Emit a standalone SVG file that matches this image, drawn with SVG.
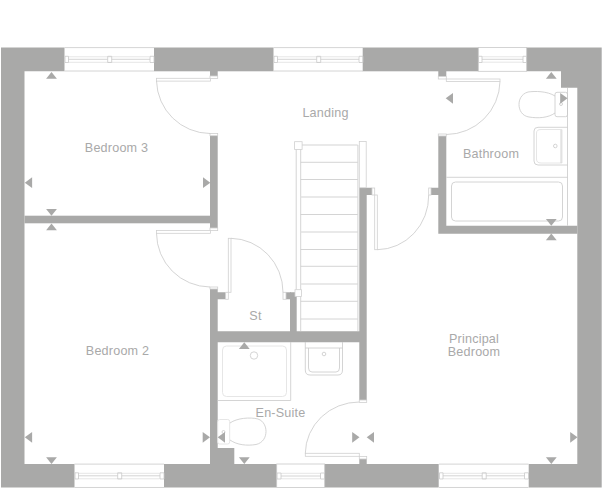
<svg xmlns="http://www.w3.org/2000/svg" width="602" height="489" viewBox="0 0 602 489">
<style>
.w{fill:#a9a9a8}
.l{fill:none;stroke:#c9c9c9;stroke-width:.8}
.p{fill:none;stroke:#e6e6e6;stroke-width:1}
.d{fill:#fff;stroke:#d0d0d0;stroke-width:.8}
.t{font-family:"Liberation Sans",Arial,sans-serif;font-size:12.6px;letter-spacing:.2px;fill:#a9a9a9;text-anchor:middle}
</style>
<defs>
<path id="au" class="w" d="M0 0L5.400 6.800H-5.400Z"/>
<path id="ad" class="w" d="M0 0L5.400 -6.800H-5.400Z"/>
<path id="al" class="w" d="M0 0L7.300 -5.400V5.400Z"/>
<path id="ar" class="w" d="M0 0L-7.300 -5.400V5.400Z"/>
<g id="win"><path class="l" d="M0 .3H89.500M0 23.700H89.500"/><path class="p" d="M4 9.500H85M4 15H85"/><path class="l" d="M.5 9H4V15.200H.5ZM43.200 9H47.200V15.200H43.200ZM85.500 9H89.500V15.200H85.500ZM4 12H43.200M47.200 12H85.500"/></g>
</defs>
<g id="walls">
<path class="w" d="M1 47.500H64.500V71.300H24.500V464H74.500V487.500H1Z"/>
<rect class="w" x="154" y="47.500" width="119.500" height="23.800"/>
<rect class="w" x="362.700" y="47.500" width="115.600" height="23.800"/>
<path class="w" d="M526.700 47.500H601.700V487.500H528.700V464H577.300V87.700H561V71.300H526.700Z"/>
<rect class="w" x="164" y="464" width="112.700" height="23.500"/>
<rect class="w" x="324.700" y="464" width="114" height="23.500"/>
<rect class="w" x="210" y="71" width="7.700" height="5"/>
<rect class="w" x="210" y="135.700" width="7.700" height="92.300"/>
<rect class="w" x="24.500" y="215.700" width="186" height="7.600"/>
<path class="w" d="M210 289H217.700V292.300H225.700V299.300H217.700V331.300H290V292.300H296.700V331.300H359.300V187.700H372V195H366.700V400H359.300V342.300H217.700V448H234.300V464H210Z"/>
<rect class="w" x="286" y="292.300" width="5" height="7"/>
<rect class="w" x="359.300" y="459" width="7.400" height="5"/>
<rect class="w" x="438.300" y="71" width="8" height="5.500"/>
<path class="w" d="M438.300 136H446.300V225.700H577.300V233.700H438.300V195H431V187.700H438.300Z"/>
</g>
<g id="windows">
<use href="#win" x="64.500" y="47.300"/>
<use href="#win" x="273.500" y="47.300"/>
<rect class="l" x="478.300" y="47.500" width="48.400" height="23.800"/>
<path class="p" d="M482 56.800H523M482 62.200H523"/>
<path class="l" d="M478.500 56.300H482V62.500H478.500ZM523 56.300H526.500V62.500H523ZM482 59.300H523"/>
<use href="#win" x="74.500" y="463.800"/>
<rect class="l" x="276.700" y="464" width="48" height="23.500"/>
<path class="p" d="M281 473.300H320M281 478.800H320"/>
<path class="l" d="M277 473H281V479H277ZM320.500 473H324.500V479H320.500ZM281 476H320.500"/>
<use href="#win" x="439" y="463.800"/>
</g>
<g id="doors">
<rect class="d" x="210" y="76" width="7.700" height="2.500"/><rect class="d" x="210" y="133.500" width="7.700" height="2.200"/>
<rect class="d" x="156.500" y="78.300" width="54" height="2.800"/><path class="l" d="M156.500 81A54 54 0 0 0 210 133.500"/>
<rect class="d" x="210" y="228" width="7.700" height="2.600"/><rect class="d" x="210" y="287" width="7.700" height="2"/>
<rect class="d" x="156.500" y="230.500" width="54" height="2.800"/><path class="l" d="M156.500 233.300A54 54 0 0 0 210 287"/>
<rect class="d" x="228.300" y="238.300" width="2.700" height="54"/><path class="l" d="M231 238.300A53 54 0 0 1 283 292.300"/>
<rect class="d" x="225.700" y="292.300" width="2.600" height="7"/><rect class="d" x="283" y="292.300" width="3" height="7"/>
<rect class="d" x="374.700" y="195" width="2.600" height="54.700"/><path class="l" d="M377.300 249.700A52 54 0 0 0 428.700 195"/>
<rect class="d" x="372" y="188" width="2.700" height="7"/><rect class="d" x="428.700" y="188" width="2.300" height="7"/>
<rect class="d" x="438.300" y="76.500" width="8" height="2.500"/><rect class="d" x="438.300" y="134" width="8" height="2"/>
<rect class="d" x="446.300" y="79" width="53.700" height="2.500"/><path class="l" d="M500 81.500A54 54 0 0 1 446.300 134.500"/>
<rect class="d" x="305.300" y="453.300" width="54" height="3"/><path class="l" d="M305.300 453.300A54 52 0 0 1 359.300 402"/>
<rect class="d" x="359.300" y="400" width="7.400" height="2.500"/><rect class="d" x="359.300" y="456.500" width="7.400" height="2.500"/>
</g>
<g id="stairs">
<path class="l" d="M296.200 149V289.700M300.700 149V331M300.700 162.300H357.700M300.700 179.500H357.700M300.700 214.500H357.700M300.700 249.500H357.700M300.700 266.300H357.700M300.700 301.300H357.700M300.700 319H357.700"/>
<path d="M302 145H357.700M300.700 197H357.700M300.700 232H357.700M300.700 284H357.700" fill="none" stroke="#e2e2e2" stroke-width="1.300"/>
<path class="l" d="M357.900 145V331"/>
<rect class="d" x="294.600" y="141.700" width="7.500" height="7.800"/>
<rect class="d" x="295" y="289.700" width="6.500" height="6.800"/>
<rect class="d" x="359.300" y="141.500" width="6.900" height="46.200"/>
</g>
<g id="fixtures">
<path class="l" d="M567.500 88V225.700"/>
<rect class="l" x="555" y="92.300" width="12.500" height="24.400" rx="2"/>
<path class="l" d="M555 96C547 91 535 91 528 92C521 94 519 100 519 104.500C519 110 522 116 529 117C538 118.500 548 118 555 113"/>
<circle class="l" cx="561" cy="104" r="1.500"/>
<path class="l" d="M567.500 127.300H538Q534 127.300 534 131V161Q534 165 538 165H567.500"/>
<path class="p" d="M562 129.500H541Q536.500 129.500 536.500 133V159Q536.500 163 541 163H562V129.500"/>
<path class="l" d="M561 130V163"/>
<circle class="l" cx="555.300" cy="146" r="1.800"/>
<path class="l" d="M446.300 177.300H567.500"/>
<rect class="l" x="451.500" y="182" width="111" height="39" rx="4"/>
<path class="l" d="M217.700 400.500H290.700V342"/>
<rect class="p" x="222.500" y="346" width="64" height="50.500" rx="4"/>
<circle class="l" cx="254" cy="355.500" r="3.700"/>
<path class="l" d="M305.300 342V370Q305.300 375 310 375H338Q342.500 375 342.500 370V342"/>
<path class="l" d="M305.300 348H342.500M308.500 348V368Q308.500 372 312 372H336Q339.500 372 339.500 368V348"/>
<circle class="l" cx="324" cy="354" r="1.800"/>
<rect class="p" x="217.700" y="419.500" width="12" height="24.500" rx="2"/>
<path class="l" d="M230 423C237 418 250 417 258 419C264 421 266 427 266 431.500C266 437 263 443 256 444.500C247 446 237 445 230 440"/>
<circle class="l" cx="223.500" cy="432" r="1.500"/>
</g>
<g id="arrows">
<use href="#au" x="51.500" y="72"/><use href="#al" x="24.800" y="182.700"/><use href="#ar" x="210.300" y="182.700"/><use href="#ad" x="51.500" y="215.700"/><use href="#au" x="51.500" y="223.500"/>
<use href="#al" x="445.700" y="98.300"/><use href="#au" x="551.300" y="72"/><use href="#ar" x="567.500" y="98.300"/><use href="#ad" x="551.300" y="225.700"/><use href="#au" x="551.300" y="233.500"/>
<use href="#al" x="24.800" y="437.300"/><use href="#ad" x="51.500" y="464"/><use href="#ar" x="210" y="437.300"/><use href="#al" x="217.700" y="437.300"/><use href="#au" x="244.300" y="342.300"/><use href="#ad" x="244.300" y="464"/>
<use href="#ar" x="359.500" y="437.300"/><use href="#al" x="366.700" y="437.300"/><use href="#ar" x="577.500" y="437.300"/><use href="#ad" x="551.300" y="464"/>
</g>
<g id="labels">
<text class="t" x="116.500" y="152">Bedroom 3</text>
<text class="t" x="325.500" y="117">Landing</text>
<text class="t" x="491" y="158">Bathroom</text>
<text class="t" x="117.500" y="355">Bedroom 2</text>
<text class="t" x="255.500" y="320">St</text>
<text class="t" x="280.500" y="416.500">En-Suite</text>
<text class="t" x="474" y="343">Principal</text>
<text class="t" x="474" y="356">Bedroom</text>
</g>
</svg>
